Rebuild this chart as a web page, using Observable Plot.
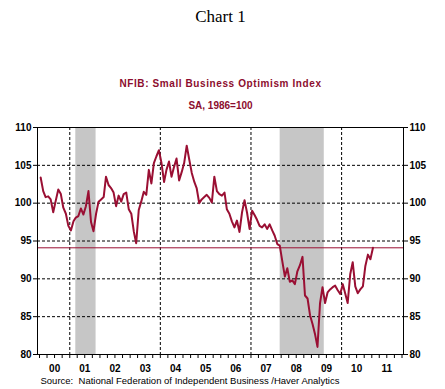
<!DOCTYPE html>
<html>
<head>
<meta charset="utf-8">
<script src="https://cdn.jsdelivr.net/npm/d3@7"></script>
<script src="https://cdn.jsdelivr.net/npm/@observablehq/plot@0.6"></script>
<style>
  html, body { margin: 0; padding: 0; background: #fff; }
  svg { display: block; }
</style>
</head>
<body>
<div id="chart"></div>
<script>
// ---- data ----
const chartTitle = "Chart 1";
const seriesTitle = "NFIB: Small Business Optimism Index";
const seriesSubtitle = "SA, 1986=100";
const sourceNote = "Source:  National Federation of Independent Business /Haver Analytics";

const startYear = 2000; // first observation: Jan 2000, monthly
const optimism = [
  // 2000
  103.4, 101.6, 100.8, 100.9, 100.5, 98.8, 100.3, 101.8, 101.2, 99.4, 98.6, 97.0,
  // 2001
  96.4, 97.6, 98.1, 98.3, 99.3, 98.5, 99.6, 101.6, 97.5, 96.3, 98.6, 100.2,
  // 2002
  100.5, 100.8, 103.5, 102.4, 102.0, 101.4, 99.6, 101.0, 100.2, 101.2, 101.4, 99.2,
  // 2003
  98.6, 96.2, 94.7, 99.1, 100.2, 101.5, 101.1, 104.4, 102.6, 105.3, 106.2, 107.0,
  // 2004
  105.3, 102.8, 104.4, 105.5, 103.5, 104.8, 105.9, 103.0, 104.1, 105.3, 107.6, 105.8,
  // 2005
  104.0, 102.8, 102.0, 100.0, 100.5, 100.8, 101.1, 100.7, 100.1, 103.5, 101.6, 101.2,
  // 2006
  101.0, 101.4, 99.2, 98.6, 97.6, 96.8, 97.7, 96.2, 98.8, 100.4, 98.7, 96.6,
  // 2007
  99.0, 98.4, 97.8, 97.0, 96.8, 97.2, 96.6, 97.2, 96.4, 95.7, 94.6, 94.4,
  // 2008
  92.3, 90.3, 91.4, 89.6, 89.8, 89.3, 91.0, 91.8, 92.9, 87.8, 87.4, 85.2,
  // 2009
  84.0, 82.6, 81.0, 86.8, 88.9, 86.8, 88.2, 88.6, 88.9, 89.1, 88.5, 88.0,
  // 2010
  89.3, 88.0, 86.8, 90.6, 92.2, 89.0, 88.1, 88.6, 89.0, 91.7, 93.2, 92.6,
  // 2011
  94.1
];

const recessionStarts = ["2001-03-15", "2007-12-20"];
const recessionEnds   = ["2001-11-15", "2009-06-05"];

const yTicks = [80, 85, 90, 95, 100, 105, 110];
const yGrid = [85, 90, 95, 100, 105];
const xGridYears = [2001, 2004, 2007, 2010];
const yearLabels = ["00","01","02","03","04","05","06","07","08","09","10","11"];

// ---- derived tables ----
const series = optimism.map((v, i) => ({
  date: new Date(Date.UTC(startYear + Math.floor(i / 12), i % 12, 15)),
  value: v
}));
const recessions = recessionStarts.map((s, i) => ({start: new Date(s), end: new Date(recessionEnds[i])}));
const latest = optimism[optimism.length - 1];
const yearMids = yearLabels.map((_, i) => new Date(Date.UTC(startYear + i, 6, 2)));
const quarterTicks = d3.range(0, 49).map(q => new Date(Date.UTC(startYear + Math.floor(q / 4), (q % 4) * 3, 1)));

const red = "#9a0f33";
const titleRed = "#8c0d2e";
const font = "'Liberation Sans', Arial, sans-serif";

const chart = Plot.plot({
  width: 445,
  height: 389,
  marginLeft: 37,
  marginRight: 42,
  marginTop: 127,
  marginBottom: 35,
  insetLeft: 2,
  insetRight: 1.5,
  style: {fontFamily: font, background: "#fff", overflow: "visible"},
  x: {type: "utc", domain: [new Date(Date.UTC(2000, 0, 1)), new Date(Date.UTC(2012, 0, 1))], axis: null},
  y: {domain: [80, 110], axis: null},
  marks: [
    Plot.rect(recessions, {x1: "start", x2: "end", fill: "#c6c6c6"}),
    Plot.gridY(yGrid, {stroke: "#000", strokeOpacity: 1, strokeDasharray: "3,2"}),
    Plot.ruleX(xGridYears.map(y => new Date(Date.UTC(y, 0, 1))), {stroke: "#000", strokeDasharray: "3,2"}),
    Plot.ruleY([latest], {stroke: red, strokeWidth: 1}),
    Plot.lineY(series, {x: "date", y: "value", stroke: red, strokeWidth: 2}),
    Plot.frame({stroke: "#000"}),
    Plot.axisY({anchor: "left", label: null, ticks: yTicks, tickSize: 4, tickPadding: 2, fontSize: 10, fontWeight: "bold", fill: "#000"}),
    Plot.axisY({anchor: "right", label: null, ticks: yTicks, tickSize: 4, tickPadding: 2, fontSize: 10, fontWeight: "bold", fill: "#000"}),
    Plot.axisX({anchor: "bottom", label: null, ticks: quarterTicks, tickSize: 4, tickFormat: () => ""}),
    Plot.axisX({anchor: "bottom", label: null, ticks: yearMids, tickSize: 0, tickPadding: 10.5, fontSize: 10, fontWeight: "bold", fill: "#000",
      tickFormat: (d) => yearLabels[d.getUTCFullYear() - startYear]}),
    Plot.text([chartTitle], {text: d => d, frameAnchor: "top", dy: -106, lineAnchor: "bottom",
      fontFamily: "'Liberation Serif', 'Times New Roman', serif", fontSize: 17, fill: "#000"}),
    Plot.text([seriesTitle], {text: d => d, frameAnchor: "top", dy: -41, lineAnchor: "bottom",
      fontSize: 10, fontWeight: "bold", fill: titleRed}),
    Plot.text([seriesSubtitle], {text: d => d, frameAnchor: "top", dy: -19, lineAnchor: "bottom",
      fontSize: 10, fontWeight: "bold", fill: titleRed}),
    Plot.text([sourceNote], {text: d => d, frameAnchor: "bottom-left", dx: 3, dy: 29, lineAnchor: "bottom",
      textAnchor: "start", fontSize: 9.5, fill: "#000"})
  ]
});

d3.select(chart).selectAll("text").filter(function() { return this.textContent === seriesTitle; })
  .attr("letter-spacing", "0.6px");
document.getElementById("chart").appendChild(chart);
</script>
</body>
</html>
